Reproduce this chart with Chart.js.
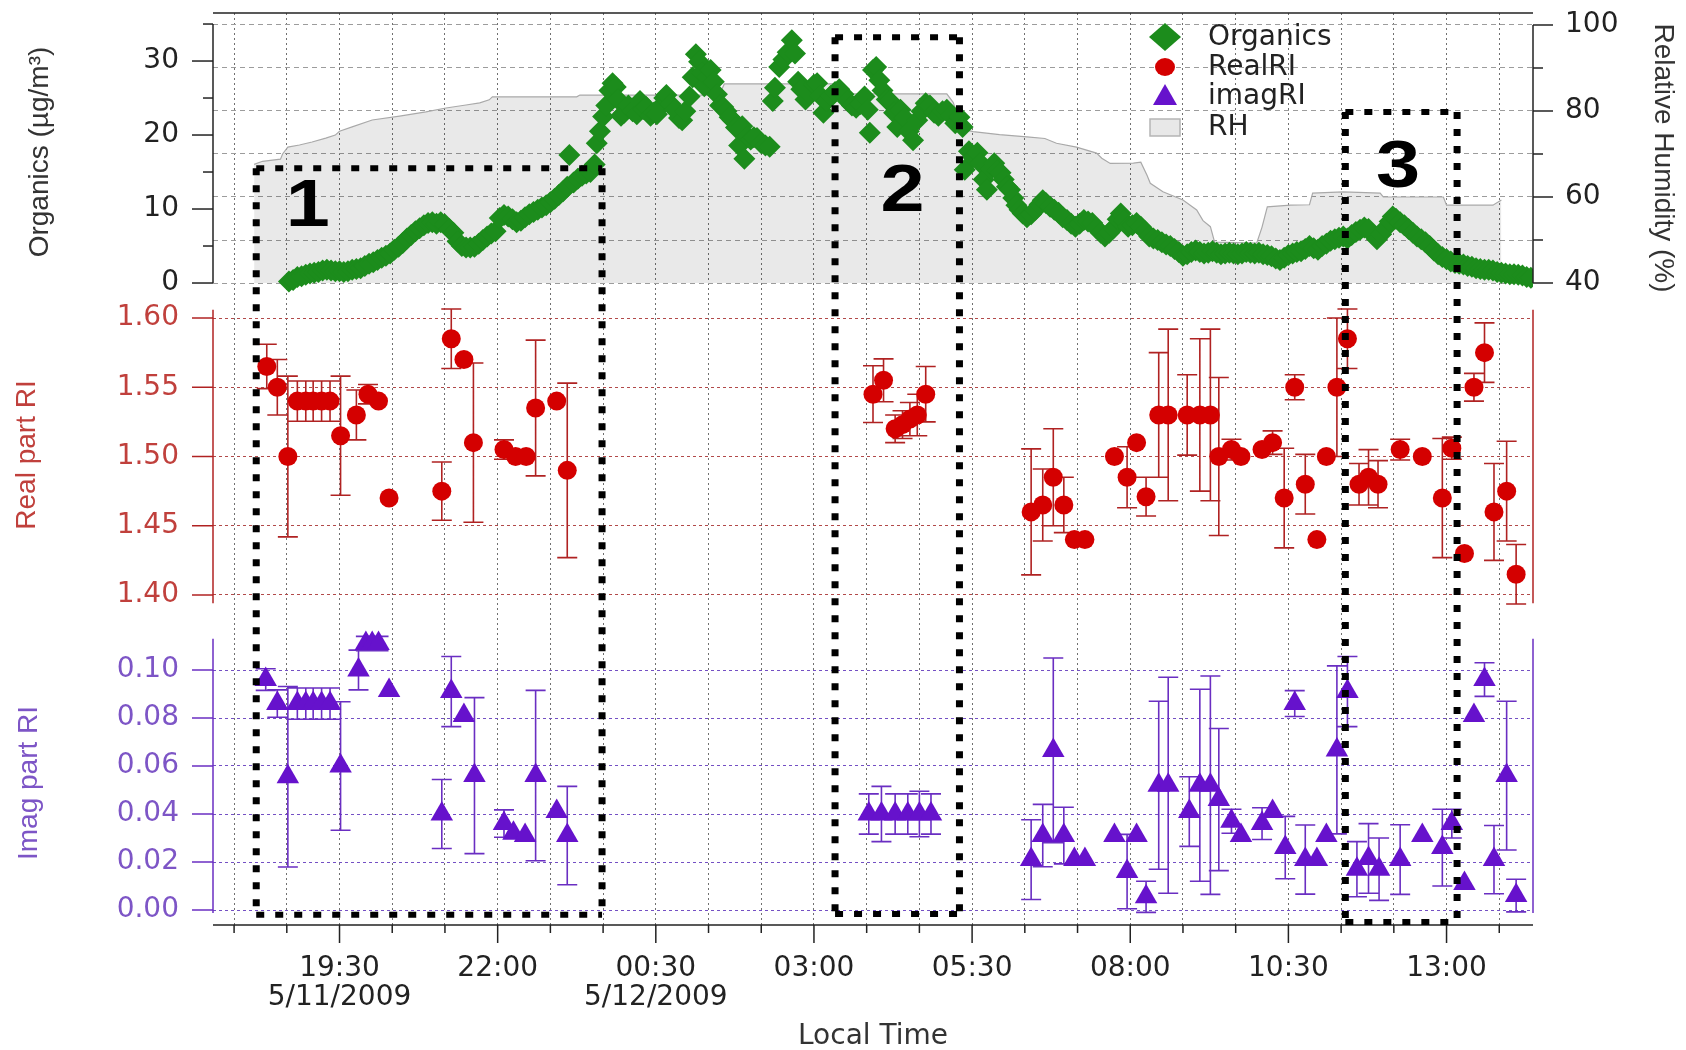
<!DOCTYPE html>
<html>
<head>
<meta charset="utf-8">
<script src="https://cdn.jsdelivr.net/npm/chart.js@4/dist/chart.umd.min.js"></script>
<style>
  html, body { margin: 0; padding: 0; background: #ffffff; }
  canvas { display: block; }
</style>
</head>
<body>
<canvas id="chart" width="1686" height="1050"></canvas>
<script>
// Time is in minutes after 00:00 on 5/11/2009 (1440 = 00:00 on 5/12/2009).

// x-axis ticks every 50 min; labelled ticks every 150 min
const xTicks = [1070, 1120, 1170, 1220, 1270, 1320, 1370, 1420, 1470, 1520, 1570, 1620, 1670,
  1720, 1770, 1820, 1870, 1920, 1970, 2020, 2070, 2120, 2170, 2220, 2270];
const xMajor = [1170, 1320, 1470, 1620, 1770, 1920, 2070, 2220];
const xMajorText = [['19:30', '5/11/2009'], '22:00', ['00:30', '5/12/2009'], '03:00', '05:30', '08:00', '10:30', '13:00'];

const orgTicks = [0, 5, 10, 15, 20, 25, 30, 35];
const orgLabelled = [0, 10, 20, 30];
const rhTicks = [40, 50, 60, 70, 80, 90, 100];
const rhLabelled = [40, 60, 80, 100];
const realTicks = [1.40, 1.45, 1.50, 1.55, 1.60];
const imagTicks = [0.00, 0.02, 0.04, 0.06, 0.08, 0.10];

// Organics mass concentration (µg/m3)
const orgTime = [
  1122, 1126, 1130, 1134, 1138, 1142, 1146, 1150, 1154, 1158, 1162, 1166, 1170, 1174, 1178, 1182,
  1186, 1190, 1194, 1198, 1202, 1206, 1210, 1214, 1218, 1222, 1226, 1230, 1234, 1238, 1242, 1246,
  1250, 1254, 1258, 1262, 1266, 1270, 1274, 1278, 1282, 1286, 1290, 1294, 1298, 1302, 1306, 1310,
  1314, 1318, 1322, 1326, 1330, 1334, 1338, 1342, 1346, 1350, 1354, 1358, 1362, 1366, 1370, 1374,
  1378, 1382, 1386, 1388, 1392, 1396, 1400, 1404, 1408, 1412, 1414, 1417, 1420, 1423, 1426, 1429,
  1432, 1434, 1437, 1440, 1444, 1448, 1452, 1455, 1458, 1461, 1465, 1468, 1471, 1474, 1478, 1480,
  1484, 1488, 1492, 1495, 1498, 1502, 1505, 1508, 1511, 1514, 1516, 1519, 1522, 1525, 1528, 1531,
  1534, 1537, 1540, 1543, 1546, 1549, 1552, 1554, 1557, 1560, 1563, 1566, 1570, 1574, 1578, 1581,
  1583, 1587, 1591, 1595, 1599, 1602, 1605, 1608, 1612, 1616, 1620, 1623, 1626, 1629, 1632, 1636,
  1640, 1644, 1648, 1652, 1656, 1660, 1664, 1668, 1671, 1673, 1676, 1679, 1682, 1685, 1689, 1692,
  1696, 1699, 1702, 1706, 1710, 1714, 1718, 1722, 1726, 1730, 1734, 1738, 1742, 1746, 1750, 1754,
  1758, 1761, 1763, 1767, 1771, 1775, 1778, 1781, 1784, 1788, 1791, 1794, 1797, 1800, 1803, 1806,
  1809, 1812, 1815, 1818, 1822, 1826, 1830, 1834, 1837, 1840, 1844, 1848, 1852, 1856, 1860, 1864,
  1868, 1872, 1876, 1880, 1884, 1888, 1892, 1896, 1900, 1904, 1908, 1911, 1914, 1918, 1922, 1926,
  1930, 1934, 1938, 1942, 1946, 1950, 1954, 1958, 1962, 1966, 1970, 1974, 1978, 1982, 1986, 1990,
  1994, 1998, 2002, 2006, 2010, 2014, 2018, 2022, 2026, 2030, 2034, 2038, 2042, 2046, 2050, 2054,
  2058, 2062, 2066, 2070, 2074, 2078, 2082, 2086, 2090, 2094, 2098, 2102, 2106, 2110, 2114, 2118,
  2122, 2126, 2130, 2134, 2138, 2142, 2146, 2150, 2154, 2158, 2162, 2166, 2169, 2172, 2176, 2180,
  2184, 2188, 2192, 2196, 2200, 2204, 2208, 2212, 2216, 2220, 2224, 2228, 2232, 2236, 2240, 2244,
  2248, 2252, 2256, 2260, 2264, 2268, 2272, 2276, 2280, 2284, 2288, 2292, 2296, 2300];
const orgValue = [
  0.2, 0.4, 0.8, 0.9, 1.1, 1.3, 1.4, 1.5, 1.7, 1.8, 1.7, 1.6, 1.6, 1.5, 1.6, 1.8,
  1.9, 2.0, 2.3, 2.6, 2.8, 3.1, 3.4, 3.7, 4.0, 4.5, 4.9, 5.4, 6.0, 6.5, 7.0, 7.4,
  7.8, 8.1, 8.2, 8.0, 8.2, 7.9, 7.3, 6.8, 5.6, 5.0, 4.8, 4.8, 4.9, 5.3, 5.8, 6.3,
  6.7, 7.0, 8.8, 9.2, 9.0, 8.6, 8.2, 8.4, 8.9, 9.3, 9.6, 9.9, 10.2, 10.5, 10.9, 11.4,
  11.9, 12.4, 13.0, 17.3, 13.6, 14.1, 14.5, 14.8, 15.0, 16.0, 18.9, 20.5, 22.5, 24.0, 26.0, 27.0,
  26.5, 24.8, 22.6, 23.0, 24.0, 23.2, 22.8, 24.6, 23.5, 23.8, 22.6, 23.0, 22.8, 23.8, 25.0, 25.4,
  24.2, 23.4, 22.3, 22.0, 23.2, 25.2, 27.8, 30.9, 29.9, 28.4, 26.6, 27.8, 28.8, 27.2, 25.5, 24.0,
  23.8, 23.2, 22.4, 22.0, 21.0, 18.6, 21.2, 16.8, 19.8, 19.4, 19.7, 19.6, 18.9, 18.6, 18.4, 24.6,
  26.4, 29.2, 30.2, 31.2, 32.8, 31.0, 27.2, 26.2, 24.8, 25.5, 26.8, 27.0, 25.3, 23.0, 24.6, 25.3,
  25.8, 26.2, 25.5, 24.6, 24.0, 23.7, 24.2, 25.2, 23.4, 20.3, 28.8, 29.2, 27.4, 26.0, 24.8, 24.6,
  23.0, 21.1, 23.4, 22.3, 20.5, 19.3, 22.0, 23.2, 24.3, 24.0, 23.0, 22.6, 23.2, 23.4, 22.6, 21.6,
  22.4, 21.1, 15.3, 17.8, 17.0, 17.6, 16.2, 14.0, 12.6, 15.4, 16.2, 15.2, 14.9, 14.0, 13.0, 12.6,
  11.5, 10.5, 9.9, 9.4, 8.9, 9.3, 9.9, 10.6, 11.2, 10.8, 10.3, 9.9, 9.5, 8.9, 8.5, 8.0,
  7.6, 8.0, 8.5, 8.3, 8.1, 7.4, 6.8, 6.3, 6.8, 7.4, 8.6, 9.4, 8.4, 7.6, 7.8, 8.1,
  7.6, 7.0, 6.3, 6.0, 5.8, 5.5, 5.2, 5.0, 4.6, 4.2, 3.7, 3.9, 4.2, 4.4, 4.2, 4.0,
  4.1, 4.3, 4.1, 3.9, 4.0, 4.1, 4.0, 3.9, 4.0, 4.2, 4.1, 4.0, 4.1, 3.9, 3.8, 3.6,
  3.3, 3.1, 3.4, 3.8, 4.0, 4.2, 4.3, 4.6, 5.0, 4.7, 4.5, 5.0, 5.3, 5.7, 5.9, 6.1,
  6.3, 6.0, 6.5, 6.9, 7.2, 7.5, 7.3, 6.6, 5.9, 6.6, 7.4, 8.3, 9.0, 8.7, 8.2, 7.8,
  7.3, 6.8, 6.3, 5.9, 5.5, 5.0, 4.4, 3.9, 3.5, 3.2, 2.9, 2.7, 2.6, 2.5, 2.3, 2.2,
  2.0, 1.9, 1.8, 1.8, 1.7, 1.5, 1.4, 1.3, 1.2, 1.2, 1.1, 1.0, 0.8, 0.7];

// Relative humidity (%)
const rhTime = [1089, 1097, 1114, 1116, 1121, 1132, 1144, 1157, 1166, 1170, 1182, 1201, 1227, 1252,
  1271, 1290, 1303, 1312, 1315, 1372, 1395, 1398, 1530, 1535, 1643, 1645, 1746, 1752, 1758, 1766,
  1771, 1796, 1822, 1839, 1850, 1869, 1888, 1893, 1901, 1923, 1930, 1936, 1939, 1951, 1970, 1983,
  1989, 1996, 2000, 2040, 2045, 2050, 2072, 2090, 2093, 2122, 2157, 2160, 2217, 2220, 2264, 2272];
const rhValue = [67.6, 68.3, 68.8, 70.0, 71.6, 72.1, 72.8, 73.7, 74.4, 75.3, 76.3, 77.9, 78.8, 79.8,
  80.7, 81.4, 81.9, 82.6, 83.3, 83.3, 83.3, 83.7, 83.7, 86.3, 86.3, 84.0, 84.0, 82.0, 78.0, 75.5,
  75.2, 74.5, 74.0, 73.6, 72.5, 71.6, 70.2, 69.0, 67.8, 67.9, 68.1, 65.0, 63.2, 61.2, 59.3, 57.0,
  54.5, 53.1, 49.5, 49.3, 53.0, 57.7, 58.1, 58.2, 60.9, 61.2, 60.9, 60.0, 60.0, 58.1, 58.1, 59.3];

// Real part of the refractive index, with uncertainty
const realTime = [1101, 1111, 1121, 1130, 1138, 1145, 1153, 1161, 1171, 1186, 1197, 1207, 1217,
  1267, 1276, 1288, 1297, 1326, 1337, 1347, 1356, 1376, 1386,
  1676, 1686, 1697, 1704, 1711, 1718, 1726,
  1826, 1837, 1847, 1857, 1867, 1877, 1905, 1917, 1926, 1935, 1947, 1956, 1974, 1986, 1996, 2004,
  2016, 2025, 2045, 2055, 2066, 2076, 2086, 2097, 2106, 2116, 2126, 2137, 2146, 2155, 2176, 2197,
  2216, 2225, 2237, 2246, 2256, 2265, 2277, 2286];
const realValue = [1.565, 1.550, 1.500, 1.540, 1.540, 1.540, 1.540, 1.540, 1.515, 1.530, 1.545, 1.540, 1.470,
  1.475, 1.585, 1.570, 1.510, 1.505, 1.500, 1.500, 1.535, 1.540, 1.490,
  1.545, 1.555, 1.520, 1.523, 1.527, 1.530, 1.545,
  1.460, 1.465, 1.485, 1.465, 1.440, 1.440, 1.500, 1.485, 1.510, 1.471, 1.530, 1.530, 1.530, 1.530, 1.530, 1.500,
  1.505, 1.500, 1.505, 1.510, 1.470, 1.550, 1.480, 1.440, 1.500, 1.550, 1.585, 1.480, 1.485, 1.480, 1.505, 1.500,
  1.470, 1.506, 1.430, 1.550, 1.575, 1.460, 1.475, 1.415];
const realErr = [0.016, 0.020, 0.058, 0.0145, 0.0145, 0.0145, 0.0145, 0.0145, 0.043, 0.018, 0.007, 0, 0,
  0.021, 0.0215, 0, 0.0575, 0.007, 0, 0, 0.049, 0, 0.063,
  0.0205, 0.0155, 0.010, 0.010, 0.012, 0.015, 0.020,
  0.0455, 0.026, 0.035, 0.020, 0, 0, 0, 0.022, 0, 0.014, 0.045, 0.062, 0.029, 0.055, 0.062, 0.057,
  0.0075, 0, 0, 0.0085, 0.036, 0.009, 0.0215, 0, 0, 0.050, 0.0215, 0.015, 0.020, 0.017, 0.0075, 0,
  0.043, 0.008, 0, 0.010, 0.0215, 0.035, 0.036, 0.0215];

// Imaginary part of the refractive index, with uncertainty
const imagTime = [1100, 1111, 1121, 1130, 1138, 1145, 1153, 1161, 1171, 1188, 1195, 1201, 1207, 1217,
  1267, 1276, 1288, 1298, 1326, 1335, 1346, 1356, 1376, 1386,
  1672, 1684, 1697, 1709, 1720, 1731,
  1826, 1837, 1847, 1857, 1867, 1877, 1905, 1917, 1926, 1935, 1947, 1956, 1976, 1986, 1996, 2004,
  2016, 2025, 2045, 2055, 2067, 2076, 2086, 2097, 2106, 2116, 2126, 2135, 2146, 2156, 2176, 2197,
  2216, 2225, 2237, 2246, 2256, 2265, 2277, 2286];
const imagValue = [0.096, 0.086, 0.0555, 0.086, 0.086, 0.086, 0.086, 0.086, 0.060, 0.100, 0.111, 0.111, 0.111, 0.0915,
  0.040, 0.091, 0.081, 0.056, 0.036, 0.032, 0.031, 0.056, 0.041, 0.031,
  0.040, 0.040, 0.040, 0.040, 0.040, 0.040,
  0.021, 0.031, 0.0665, 0.031, 0.021, 0.021, 0.031, 0.016, 0.031, 0.0055, 0.052, 0.052, 0.041, 0.052, 0.052, 0.046,
  0.037, 0.031, 0.036, 0.041, 0.026, 0.086, 0.021, 0.021, 0.031, 0.0667, 0.091, 0.017, 0.0215, 0.017, 0.021, 0.031,
  0.026, 0.036, 0.011, 0.081, 0.096, 0.021, 0.056, 0.006];
const imagErr = [0.0045, 0.0057, 0.0376, 0.0065, 0.0065, 0.0065, 0.0065, 0.0065, 0.0268, 0.0083, 0.003, 0.003, 0.003, 0,
  0.0144, 0.0146, 0, 0.0325, 0.0057, 0, 0, 0.0355, 0, 0.0205,
  0.0084, 0.0115, 0.0084, 0.0084, 0.0095, 0.0084,
  0.0166, 0.013, 0.0385, 0.0118, 0, 0, 0, 0.0155, 0, 0.0065, 0.035, 0.045, 0.0145, 0.040, 0.0455, 0.0296,
  0.005, 0, 0.0066, 0, 0.013, 0.0054, 0.0144, 0, 0, 0.035, 0.0146, 0.0115, 0.0145, 0.013, 0.0145, 0,
  0.016, 0.006, 0, 0, 0.007, 0.0142, 0.031, 0.0068];

// Highlighted periods: from the top of the organics panel to the bottom of the imag panel
const periodName = ['1', '2', '3'];
const periodStart = [1091, 1640, 2124];
const periodEnd = [1419, 1758, 2230];
const periodTopOrg = [15.5, 33.2, 23.1];
const periodBottomImag = [-0.002, -0.0017, -0.005];
const periodNameTime = [1140, 1704, 2174];
const periodNameOrg = [10.2, 12.2, 15.4];

// Visible extent of each axis line
const orgAxisSpan = [0, 35];
const rhAxisSpan = [40, 100];
const realAxisSpan = [1.394, 1.606];
const imagAxisSpan = [-0.0013, 0.113];

const COL = {
  org: '#1c8c1c',
  real: '#d40000',
  realDark: '#b02222',
  realText: '#c0403c',
  imag: '#6612cc',
  imagDark: '#6a2ec2',
  imagText: '#7d55c6',
  ink: '#222222'
};
const HFONT = '"DejaVu Sans", "Noto Sans", sans-serif';
const RFONT = '"Liberation Sans", Arial, sans-serif';
const TEXT_PX = 28;

const pts = (xs, ys) => xs.map((t, i) => ({ x: t, y: ys[i] }));
const setTicks = (vals) => (scale) => { scale.ticks = vals.map(v => ({ value: v })); };
const fixWidth = (w) => (scale) => {
  scale.width = w;
  scale.paddingTop = 0;
  scale.paddingBottom = 0;
};

function errorBars(ctx, xScale, yScale, ts, vs, es, color) {
  ctx.save();
  ctx.strokeStyle = color;
  ctx.lineWidth = 1.6;
  ctx.beginPath();
  for (let i = 0; i < ts.length; i++) {
    if (!es[i]) continue;
    const px = xScale.getPixelForValue(ts[i]);
    const top = yScale.getPixelForValue(vs[i] + es[i]);
    const bot = yScale.getPixelForValue(vs[i] - es[i]);
    ctx.moveTo(px, top); ctx.lineTo(px, bot);
    ctx.moveTo(px - 10, top); ctx.lineTo(px + 10, top);
    ctx.moveTo(px - 10, bot); ctx.lineTo(px + 10, bot);
  }
  ctx.stroke();
  ctx.restore();
}

function line(ctx, x0, y0, x1, y1, color, width) {
  ctx.save();
  ctx.strokeStyle = color;
  ctx.lineWidth = width;
  ctx.setLineDash([]);
  ctx.beginPath();
  ctx.moveTo(x0, y0);
  ctx.lineTo(x1, y1);
  ctx.stroke();
  ctx.restore();
}

function rotatedText(ctx, text, x, y, angle, color, font) {
  ctx.save();
  ctx.translate(x, y);
  ctx.rotate(angle);
  ctx.fillStyle = color;
  ctx.font = font;
  ctx.textAlign = 'center';
  ctx.textBaseline = 'middle';
  ctx.fillText(text, 0, 0);
  ctx.restore();
}

function axisLabels(ctx, scale, values, x, color) {
  ctx.save();
  ctx.fillStyle = color;
  ctx.font = TEXT_PX + 'px ' + HFONT;
  ctx.textAlign = 'right';
  ctx.textBaseline = 'middle';
  for (const v of values) ctx.fillText(v.toFixed(2), x, scale.getPixelForValue(v));
  ctx.restore();
}

const decorations = {
  id: 'decorations',
  beforeDatasetsDraw(chart) {
    const { ctx, scales } = chart;
    errorBars(ctx, scales.x, scales.yReal, realTime, realValue, realErr, COL.realDark);
    errorBars(ctx, scales.x, scales.yImag, imagTime, imagValue, imagErr, COL.imagDark);
  },
  afterDatasetsDraw(chart) {
    const { ctx, scales, chartArea: a } = chart;
    const { x, yOrg, yRH, yReal, yImag } = scales;

    // axis lines
    line(ctx, a.left, a.top, a.right, a.top, '#222', 1.5);
    line(ctx, a.left, a.bottom, a.right, a.bottom, '#222', 1.5);
    line(ctx, a.left, yOrg.getPixelForValue(orgAxisSpan[0]), a.left, yOrg.getPixelForValue(orgAxisSpan[1]), '#222', 1.5);
    line(ctx, a.right, yRH.getPixelForValue(rhAxisSpan[0]), a.right, yRH.getPixelForValue(rhAxisSpan[1]), '#222', 1.5);
    for (const px of [a.left, a.right]) {
      line(ctx, px, yReal.getPixelForValue(realAxisSpan[0]), px, yReal.getPixelForValue(realAxisSpan[1]), COL.realDark, 1.5);
      line(ctx, px, yImag.getPixelForValue(imagAxisSpan[0]), px, yImag.getPixelForValue(imagAxisSpan[1]), COL.imagDark, 1.5);
    }

    // tick marks and the refractive-index tick labels
    for (const t of xTicks) {
      const px = x.getPixelForValue(t);
      line(ctx, px, a.bottom, px, a.bottom + (xMajor.includes(t) ? 18 : 8), '#222', 1.5);
    }
    for (const v of orgTicks) {
      const py = yOrg.getPixelForValue(v);
      line(ctx, a.left - (orgLabelled.includes(v) ? 21 : 10), py, a.left, py, '#222', 1.5);
    }
    for (const v of rhTicks) {
      const py = yRH.getPixelForValue(v);
      line(ctx, a.right, py, a.right + (rhLabelled.includes(v) ? 20 : 10), py, '#222', 1.5);
    }
    for (const v of realTicks) {
      const py = yReal.getPixelForValue(v);
      line(ctx, a.left - 21, py, a.left, py, COL.realDark, 1.5);
    }
    for (const v of imagTicks) {
      const py = yImag.getPixelForValue(v);
      line(ctx, a.left - 21, py, a.left, py, COL.imagDark, 1.5);
    }
    axisLabels(ctx, yReal, realTicks, a.left - 34, COL.realText);
    axisLabels(ctx, yImag, imagTicks, a.left - 34, COL.imagText);

    // highlighted periods
    ctx.save();
    ctx.strokeStyle = '#000';
    ctx.lineCap = 'butt';
    for (let k = 0; k < periodStart.length; k++) {
      const x0 = x.getPixelForValue(periodStart[k]);
      const x1 = x.getPixelForValue(periodEnd[k]);
      const y0 = yOrg.getPixelForValue(periodTopOrg[k]);
      const y1 = yImag.getPixelForValue(periodBottomImag[k]);
      ctx.lineWidth = 6;
      ctx.setLineDash([8, 11]);
      ctx.beginPath();
      ctx.moveTo(x0, y0); ctx.lineTo(x1, y0);
      ctx.moveTo(x0, y1); ctx.lineTo(x1, y1);
      ctx.stroke();
      ctx.lineWidth = 7;
      ctx.setLineDash([7, 10]);
      ctx.beginPath();
      ctx.moveTo(x0, y0); ctx.lineTo(x0, y1);
      ctx.moveTo(x1, y0); ctx.lineTo(x1, y1);
      ctx.stroke();
    }
    ctx.restore();

    ctx.save();
    ctx.fillStyle = '#000';
    ctx.font = 'bold 66px ' + RFONT;
    ctx.textAlign = 'center';
    ctx.textBaseline = 'middle';
    for (let k = 0; k < periodName.length; k++) {
      ctx.save();
      ctx.translate(x.getPixelForValue(periodNameTime[k]), yOrg.getPixelForValue(periodNameOrg[k]));
      ctx.scale(1.2, 1);
      ctx.fillText(periodName[k], 0, 0);
      ctx.restore();
    }
    ctx.restore();

    // legend
    const lx = 1165, tx = 1208;
    const rows = [37, 67, 96, 127];
    ctx.save();
    ctx.fillStyle = COL.org;
    ctx.beginPath();
    ctx.moveTo(lx - 16, rows[0]); ctx.lineTo(lx, rows[0] - 14); ctx.lineTo(lx + 16, rows[0]); ctx.lineTo(lx, rows[0] + 14);
    ctx.closePath(); ctx.fill();
    ctx.fillStyle = COL.real;
    ctx.beginPath(); ctx.ellipse(lx, rows[1], 10, 9, 0, 0, Math.PI * 2); ctx.fill();
    ctx.fillStyle = COL.imag;
    ctx.beginPath();
    ctx.moveTo(lx, rows[2] - 12); ctx.lineTo(lx + 12, rows[2] + 9); ctx.lineTo(lx - 12, rows[2] + 9);
    ctx.closePath(); ctx.fill();
    ctx.fillStyle = '#e8e8e8';
    ctx.strokeStyle = '#b5b5b5';
    ctx.lineWidth = 1.5;
    ctx.fillRect(lx - 15, rows[3] - 8, 30, 17);
    ctx.strokeRect(lx - 15, rows[3] - 8, 30, 17);
    ctx.fillStyle = COL.ink;
    ctx.font = TEXT_PX + 'px ' + HFONT;
    ctx.textAlign = 'left';
    ctx.textBaseline = 'middle';
    ['Organics', 'RealRI', 'imagRI', 'RH'].forEach((s, i) => ctx.fillText(s, tx, rows[i] + 1));
    ctx.restore();

    // axis titles
    const titleFont = TEXT_PX + 'px ' + RFONT;
    rotatedText(ctx, 'Organics (µg/m³)', 40, 152, -Math.PI / 2, '#333', titleFont);
    rotatedText(ctx, 'Real part RI', 27, 455, -Math.PI / 2, COL.realText, titleFont);
    rotatedText(ctx, 'Imag part RI', 29, 783, -Math.PI / 2, COL.imagText, titleFont);
    rotatedText(ctx, 'Relative Humidity (%)', 1663, 158, Math.PI / 2, '#333', titleFont);
    ctx.save();
    ctx.fillStyle = '#333';
    ctx.font = TEXT_PX + 'px ' + HFONT;
    ctx.textAlign = 'center';
    ctx.textBaseline = 'middle';
    ctx.fillText('Local Time', 873, 1037);
    ctx.restore();
  }
};

const tickFont = { family: HFONT, size: TEXT_PX, lineHeight: 1.05 };

new Chart(document.getElementById('chart'), {
  type: 'scatter',
  data: {
    datasets: [
      {
        type: 'line', label: 'RH', data: pts(rhTime, rhValue), yAxisID: 'yRH',
        borderColor: '#a9a9a9', borderWidth: 1.2, backgroundColor: 'rgba(0,0,0,0.088)',
        fill: { value: 40 }, pointRadius: 0, tension: 0, order: 6
      },
      {
        label: 'Organics', data: pts(orgTime, orgValue), yAxisID: 'yOrg',
        pointStyle: 'rectRot', pointRadius: 11, backgroundColor: COL.org, borderColor: COL.org, borderWidth: 0, order: 3
      },
      {
        label: 'RealRI', data: pts(realTime, realValue), yAxisID: 'yReal',
        pointStyle: 'circle', pointRadius: 9.5, backgroundColor: COL.real, borderColor: COL.real, borderWidth: 0, order: 2
      },
      {
        label: 'imagRI', data: pts(imagTime, imagValue), yAxisID: 'yImag',
        pointStyle: 'triangle', pointRadius: 13, backgroundColor: COL.imag, borderColor: COL.imag, borderWidth: 0, order: 1
      }
    ]
  },
  options: {
    responsive: false,
    animation: false,
    devicePixelRatio: 1,
    events: [],
    layout: { padding: { top: 13, left: 0, right: 0, bottom: 0 }, autoPadding: false },
    plugins: { legend: { display: false }, tooltip: { enabled: false } },
    scales: {
      x: {
        type: 'linear', position: 'bottom', min: 1050, max: 2302,
        afterBuildTicks: setTicks(xTicks),
        afterFit: (s) => { s.height = 125; s.paddingLeft = 0; s.paddingRight = 0; },
        grid: { color: '#707070', lineWidth: 1, drawTicks: false },
        border: { display: false, dash: [2, 3] },
        ticks: {
          autoSkip: false, maxRotation: 0, minRotation: 0, padding: 29,
          font: tickFont, color: COL.ink,
          callback: (v) => { const i = xMajor.indexOf(v); return i >= 0 ? xMajorText[i] : ''; }
        }
      },
      yOrg: {
        type: 'linear', position: 'left', weight: 2, min: -86.76, max: 36.49,
        afterBuildTicks: setTicks(orgTicks),
        afterFit: fixWidth(213),
        grid: { drawOnChartArea: false, drawTicks: false },
        border: { display: false },
        ticks: {
          autoSkip: false, padding: 34, font: tickFont, color: COL.ink,
          callback: (v) => orgLabelled.includes(v) ? String(v) : ''
        }
      },
      yReal: {
        type: 'linear', position: 'left', weight: 1, min: 1.16173, max: 1.82022,
        afterBuildTicks: setTicks(realTicks),
        afterFit: fixWidth(0),
        grid: { color: '#b24a4a', lineWidth: 1, drawTicks: false },
        border: { display: false, dash: [3, 3] },
        ticks: { display: false }
      },
      yImag: {
        type: 'linear', position: 'left', weight: 0, min: -0.00625, max: 0.37375,
        afterBuildTicks: setTicks(imagTicks),
        afterFit: fixWidth(0),
        grid: { color: '#7450c4', lineWidth: 1, drawTicks: false },
        border: { display: false, dash: [3, 3] },
        ticks: { display: false }
      },
      yRH: {
        type: 'linear', position: 'right', min: -109.3, max: 102.79,
        afterBuildTicks: setTicks(rhTicks),
        afterFit: fixWidth(153),
        grid: { color: '#9c9c9c', lineWidth: 1, drawTicks: false },
        border: { display: false, dash: [5, 4] },
        ticks: {
          autoSkip: false, padding: 32, font: tickFont, color: COL.ink,
          callback: (v) => rhLabelled.includes(v) ? String(v) : ''
        }
      }
    }
  },
  plugins: [decorations]
});
</script>
</body>
</html>
